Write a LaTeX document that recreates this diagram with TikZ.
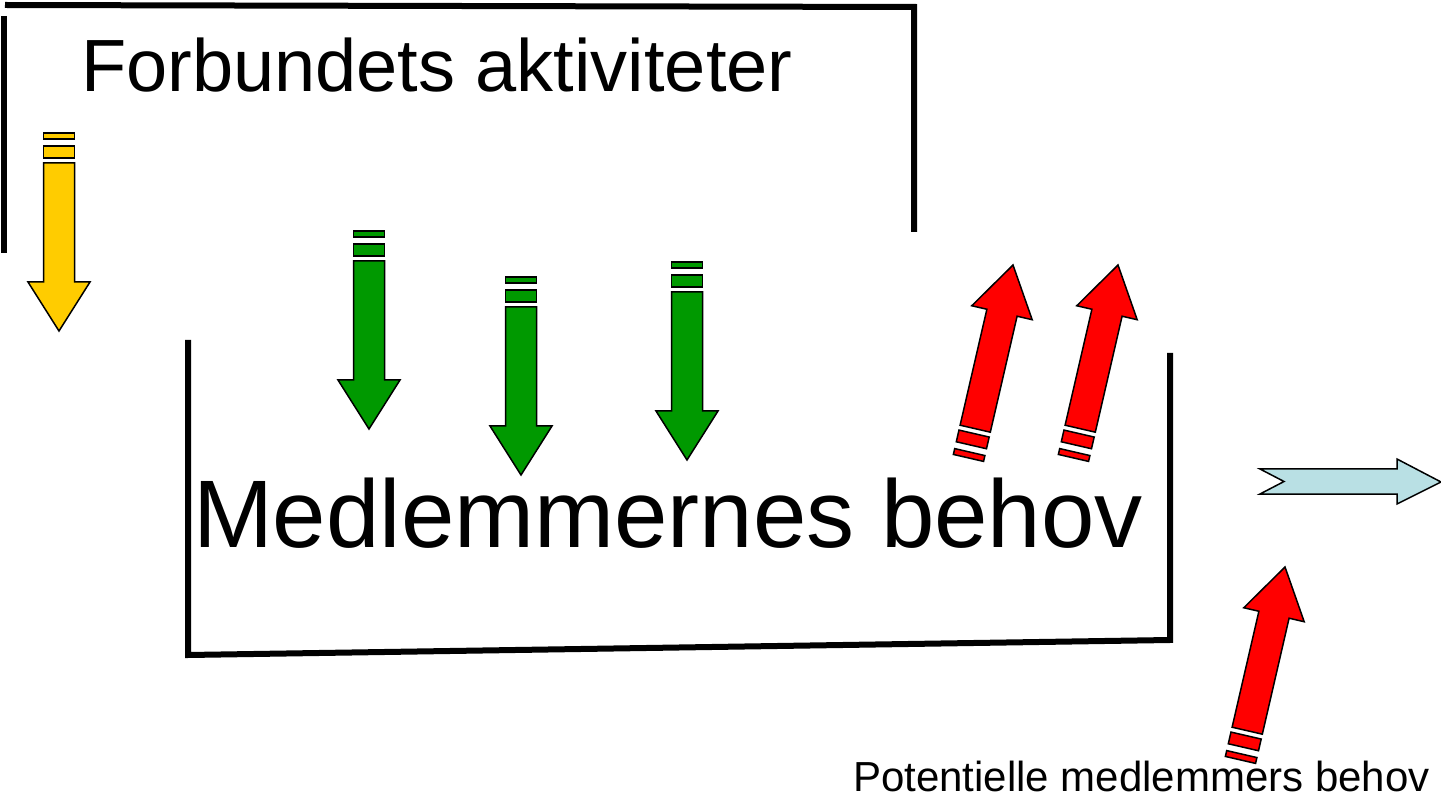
\documentclass[tikz,border=0pt]{standalone}
\usepackage{fontspec}
\setmainfont{Liberation Sans}
\definecolor{aYellow}{RGB}{255,204,0}
\definecolor{aGreen}{RGB}{0,153,0}
\definecolor{aRed}{RGB}{255,0,0}
\definecolor{aCyan}{RGB}{185,224,228}
\tikzset{
  bracket/.style={line width=6pt, line join=miter, line cap=butt},
  arrowline/.style={draw=black, line width=1.5pt, line join=miter},
  sarrow/.pic={
    \draw[pic actions] (-15.5,-198) rectangle (15.5,-192);
    \draw[pic actions] (-15.5,-185) rectangle (15.5,-173);
    \draw[pic actions] (-15.5,-168) -- (15.5,-168) -- (15.5,-49) -- (31,-49) -- (0,0) -- (-31,-49) -- (-15.5,-49) -- cycle;
  },
  lbl/.style={anchor=base west, inner sep=0pt, outer sep=0pt, text=black}
}
\begin{document}
\begin{tikzpicture}[x=1pt,y=-1pt]
\useasboundingbox (0,0) rectangle (1441,799);
% top bracket
\draw[bracket] (5,5) -- (914,7) -- (914,232);
\draw[bracket] (4,16) -- (4,253);
% bottom bracket
\draw[bracket] (188,340) -- (188,655) -- (1170,640) -- (1170,353);
% texts
\node[lbl, font=\fontsize{74}{80}\selectfont] (title) at (81,92) {Forbundets aktiviteter};
\node[lbl, font=\fontsize{96}{100}\selectfont] (needs) at (193,547) {Medlemmernes behov};
\node[lbl, font=\fontsize{42}{46}\selectfont] (pot) at (853,791) {Potentielle medlemmers behov};
% down arrows
\pic[arrowline, fill=aYellow] at (59,331) {sarrow};
\pic[arrowline, fill=aGreen] at (369,429) {sarrow};
\pic[arrowline, fill=aGreen] at (521,475) {sarrow};
\pic[arrowline, fill=aGreen] at (687,460) {sarrow};
% red up arrows
\pic[arrowline, fill=aRed, rotate=167] at (1013,265) {sarrow};
\pic[arrowline, fill=aRed, rotate=167] at (1118,265) {sarrow};
\pic[arrowline, fill=aRed, rotate=167] at (1285,567) {sarrow};
% notched cyan arrow
\draw[arrowline, fill=aCyan] (1260,469) -- (1397,469) -- (1397,459) -- (1441,482) -- (1397,504) -- (1397,494) -- (1260,494) -- (1284,481.5) -- cycle;
\end{tikzpicture}
\end{document}
